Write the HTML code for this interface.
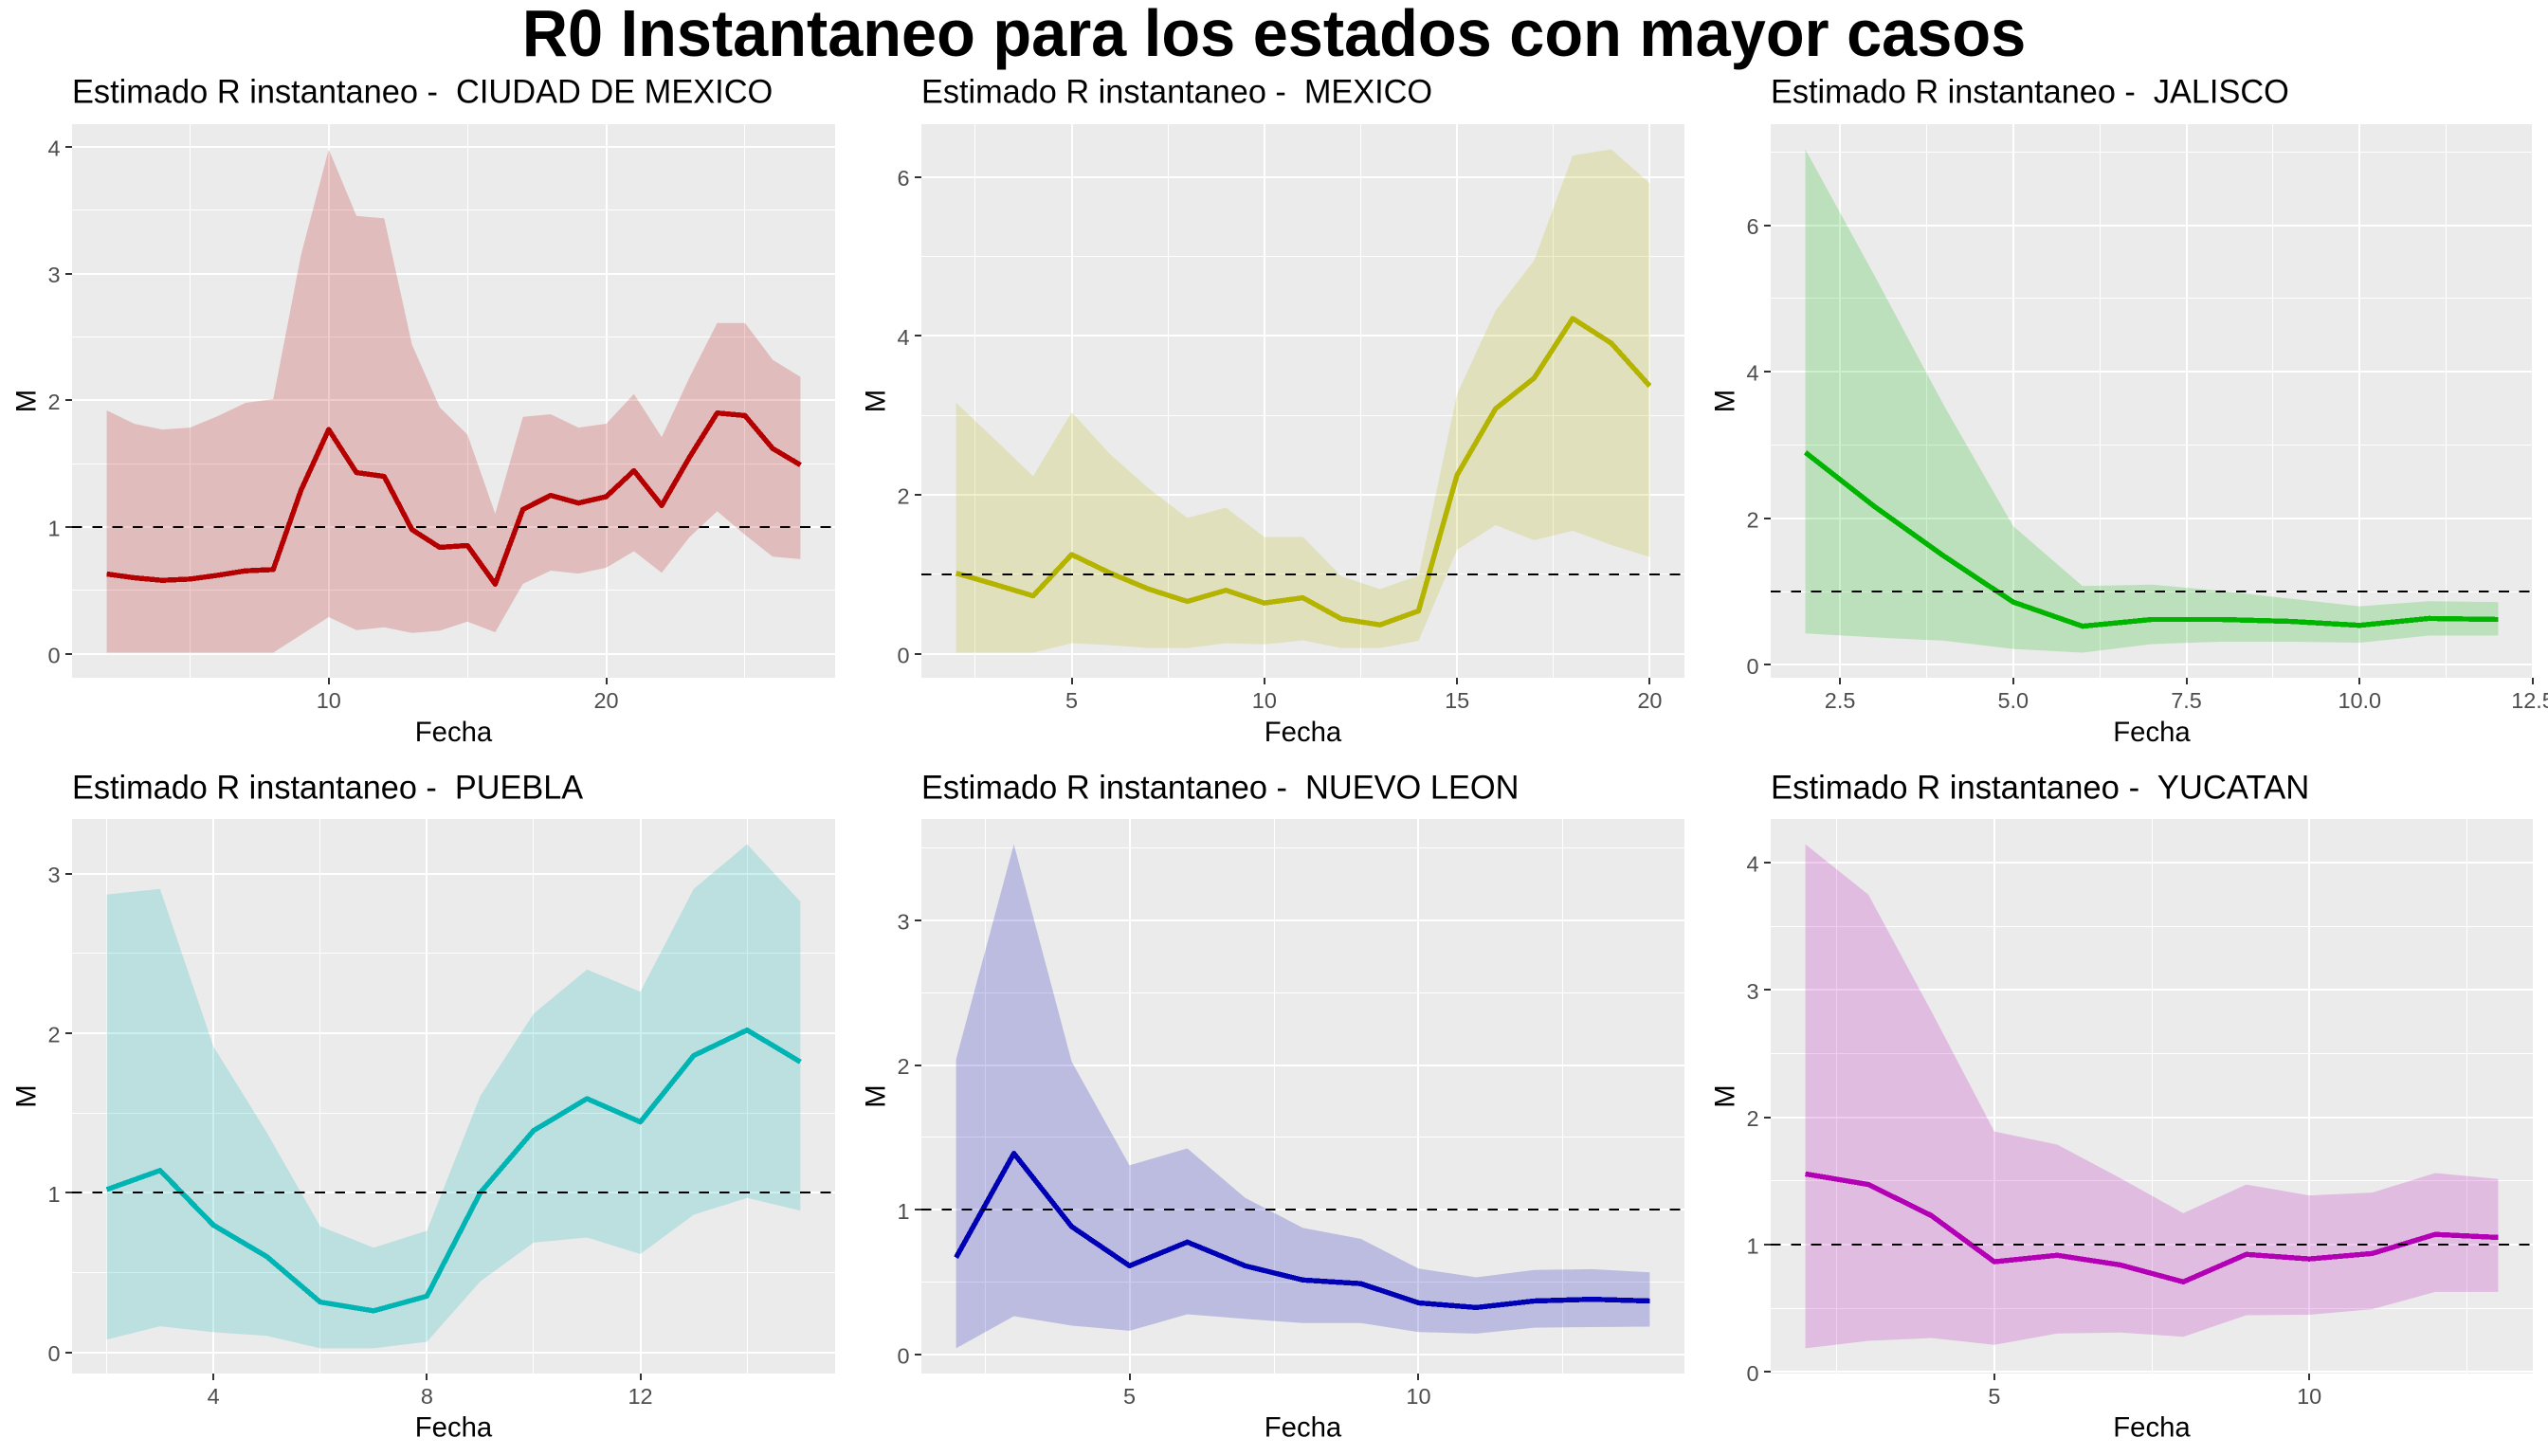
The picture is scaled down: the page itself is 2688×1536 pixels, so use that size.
<!DOCTYPE html>
<html lang="es">
<head>
<meta charset="utf-8">
<title>R0 Instantaneo para los estados con mayor casos</title>
<style>
  html, body { margin: 0; padding: 0; background: #ffffff; }
  body { width: 2688px; height: 1536px; overflow: hidden; }
  svg { display: block; font-family: "Liberation Sans", Arial, sans-serif; }
  .main-title { font-size: 69.3px; font-weight: bold; fill: #000; }
  .panel-title { font-size: 35.2px; fill: #000; white-space: pre; }
  .axis-title { font-size: 29.3px; fill: #000; }
  .tick-label { font-size: 23.45px; fill: #4D4D4D; }
</style>
</head>
<body>
<svg id="figure" xmlns="http://www.w3.org/2000/svg" width="2688" height="1536" viewBox="0 0 2688 1536">
  <rect x="0" y="0" width="2688" height="1536" fill="#ffffff"/>
  <text class="main-title" transform="translate(1344 59) scale(0.9626 1)" text-anchor="middle">R0 Instantaneo para los estados con mayor casos</text>

  <text class="panel-title" transform="translate(76 108.5) scale(0.977 1)" xml:space="preserve">Estimado R instantaneo -  CIUDAD DE MEXICO</text>
  <text class="panel-title" transform="translate(972 108.5) scale(0.974 1)" xml:space="preserve">Estimado R instantaneo -  MEXICO</text>
  <text class="panel-title" transform="translate(1868 108.5) scale(0.974 1)" xml:space="preserve">Estimado R instantaneo -  JALISCO</text>
  <text class="panel-title" transform="translate(76 842.5) scale(0.974 1)" xml:space="preserve">Estimado R instantaneo -  PUEBLA</text>
  <text class="panel-title" transform="translate(972 842.5) scale(0.977 1)" xml:space="preserve">Estimado R instantaneo -  NUEVO LEON</text>
  <text class="panel-title" transform="translate(1868 842.5) scale(0.985 1)" xml:space="preserve">Estimado R instantaneo -  YUCATAN</text>

  <text class="axis-title" x="478.5" y="782" text-anchor="middle">Fecha</text>
  <text class="axis-title" x="1374.5" y="782" text-anchor="middle">Fecha</text>
  <text class="axis-title" x="2270" y="782" text-anchor="middle">Fecha</text>
  <text class="axis-title" x="478.5" y="1515.5" text-anchor="middle">Fecha</text>
  <text class="axis-title" x="1374.5" y="1515.5" text-anchor="middle">Fecha</text>
  <text class="axis-title" x="2270" y="1515.5" text-anchor="middle">Fecha</text>

  <text class="axis-title" transform="translate(37.5 423) rotate(-90)" text-anchor="middle">M</text>
  <text class="axis-title" transform="translate(933.5 423) rotate(-90)" text-anchor="middle">M</text>
  <text class="axis-title" transform="translate(1829.5 423) rotate(-90)" text-anchor="middle">M</text>
  <text class="axis-title" transform="translate(37.5 1156.5) rotate(-90)" text-anchor="middle">M</text>
  <text class="axis-title" transform="translate(933.5 1156.5) rotate(-90)" text-anchor="middle">M</text>
  <text class="axis-title" transform="translate(1829.5 1156.5) rotate(-90)" text-anchor="middle">M</text>

  <g id="panels"></g>
</svg>

<script>
// ---- Data ----
const cdmxDays  = [2,3,4,5,6,7,8,9,10,11,12,13,14,15,16,17,18,19,20,21,22,23,24,25,26,27];
const cdmxMean  = [0.63,0.60,0.58,0.59,0.62,0.655,0.665,1.29,1.77,1.43,1.40,0.98,0.84,0.855,0.55,1.14,1.25,1.19,1.24,1.445,1.17,1.55,1.90,1.88,1.62,1.49];
const cdmxUpper = [1.92,1.815,1.77,1.785,1.875,1.98,2.01,3.145,3.98,3.455,3.435,2.44,1.945,1.73,1.105,1.87,1.89,1.785,1.815,2.05,1.71,2.18,2.61,2.61,2.32,2.185];
const cdmxLower = [0.01,0.01,0.01,0.01,0.01,0.01,0.01,0.15,0.29,0.187,0.21,0.165,0.183,0.255,0.17,0.553,0.656,0.633,0.68,0.81,0.64,0.92,1.125,0.94,0.767,0.747];
const cdmxXTicks = [10,20];
const cdmxYTicks = [0,1,2,3,4];

const mexDays  = [2,3,4,5,6,7,8,9,10,11,12,13,14,15,16,17,18,19,20];
const mexMean  = [1.016,0.875,0.73,1.25,1.016,0.815,0.66,0.80,0.64,0.706,0.44,0.365,0.54,2.25,3.085,3.47,4.22,3.91,3.37];
const mexUpper = [3.16,2.70,2.235,3.04,2.51,2.08,1.71,1.84,1.47,1.47,0.975,0.815,0.985,3.27,4.32,4.95,6.27,6.348,5.92];
const mexLower = [0.016,0.016,0.016,0.134,0.11,0.073,0.073,0.134,0.12,0.17,0.073,0.073,0.164,1.31,1.62,1.43,1.55,1.37,1.22];
const mexXTicks = [5,10,15,20];
const mexYTicks = [0,2,4,6];

const jalDays  = [2,3,4,5,6,7,8,9,10,11,12];
const jalMean  = [2.90,2.16,1.485,0.858,0.528,0.62,0.62,0.594,0.54,0.634,0.62];
const jalUpper = [7.036,5.31,3.54,1.894,1.076,1.096,1.01,0.904,0.80,0.87,0.858];
const jalLower = [0.43,0.376,0.33,0.218,0.168,0.284,0.317,0.317,0.304,0.40,0.40];
const jalXTicks = [2.5,5,7.5,10,12.5];
const jalXLabels = ['2.5','5.0','7.5','10.0','12.5'];
const jalYTicks = [0,2,4,6];

const pueDays  = [2,3,4,5,6,7,8,9,10,11,12,13,14,15];
const pueMean  = [1.02,1.14,0.797,0.60,0.315,0.26,0.352,1.0,1.39,1.59,1.444,1.86,2.02,1.82];
const pueUpper = [2.87,2.905,1.917,1.378,0.79,0.656,0.762,1.607,2.123,2.40,2.26,2.905,3.185,2.825];
const pueLower = [0.08,0.163,0.126,0.103,0.025,0.025,0.066,0.444,0.688,0.72,0.616,0.862,0.968,0.888];
const pueXTicks = [4,8,12];
const pueYTicks = [0,1,2,3];

const nleDays  = [2,3,4,5,6,7,8,9,10,11,12,13,14];
const nleMean  = [0.67,1.39,0.884,0.613,0.777,0.613,0.515,0.49,0.357,0.325,0.37,0.382,0.37];
const nleUpper = [2.04,3.526,2.024,1.307,1.424,1.083,0.875,0.80,0.594,0.534,0.584,0.59,0.568];
const nleLower = [0.043,0.265,0.20,0.164,0.278,0.246,0.218,0.218,0.155,0.145,0.186,0.19,0.193];
const nleXTicks = [5,10];
const nleYTicks = [0,1,2,3];

const yucDays  = [2,3,4,5,6,7,8,9,10,11,12,13];
const yucMean  = [1.555,1.472,1.228,0.865,0.916,0.84,0.707,0.923,0.887,0.93,1.08,1.056];
const yucUpper = [4.145,3.749,2.833,1.889,1.785,1.522,1.246,1.472,1.386,1.408,1.562,1.515];
const yucLower = [0.185,0.244,0.266,0.212,0.302,0.309,0.276,0.445,0.449,0.492,0.628,0.628];
const yucXTicks = [5,10];
const yucYTicks = [0,1,2,3,4];

const referenceValue = 1;

// ---- Layout and style ----
const columnBounds = [[76, 881], [972, 1777], [1868, 2672]];
const rowBounds = [[131, 715], [864, 1449]];
const EXPAND = 0.05;
const SVGNS = 'http://www.w3.org/2000/svg';
const panelRoot = document.getElementById('panels');

function shape(parent, tag, attrs, text) {
  const node = document.createElementNS(SVGNS, tag);
  for (const key in attrs) node.setAttribute(key, attrs[key]);
  if (text !== undefined) node.textContent = text;
  parent.appendChild(node);
  return node;
}

function linearScale(domainLo, domainHi, rangeLo, rangeHi) {
  return function (v) {
    return rangeLo + (v - domainLo) / (domainHi - domainLo) * (rangeHi - rangeLo);
  };
}

function expandedDomain(values) {
  const lo = Math.min.apply(null, values);
  const hi = Math.max.apply(null, values);
  const pad = (hi - lo) * EXPAND;
  return [lo - pad, hi + pad];
}

function minorBreaks(ticks, domain) {
  const step = ticks.length > 1 ? ticks[1] - ticks[0] : ticks[0];
  const out = [];
  for (let v = ticks[0] - step / 2; v <= domain[1]; v += step) {
    if (v >= domain[0]) out.push(v);
  }
  return out;
}

function pointsOf(xs, ys, xScale, yScale) {
  return xs.map(function (d, i) {
    return xScale(d).toFixed(2) + ',' + yScale(ys[i]).toFixed(2);
  });
}

// Pixel-snapped stroke centres so aliased rules keep a uniform width.
function snapEven(p) { return Math.round(p); }
function snapOdd(p) { return Math.floor(p) + 0.5; }

function drawPanel(cfg, col, row) {
  const left = columnBounds[col][0], right = columnBounds[col][1];
  const top = rowBounds[row][0], bottom = rowBounds[row][1];
  const xDomain = expandedDomain(cfg.days);
  const yDomain = expandedDomain(cfg.lower.concat(cfg.upper));
  const xScale = linearScale(xDomain[0], xDomain[1], left, right);
  const yScale = linearScale(yDomain[0], yDomain[1], bottom, top);

  const group = shape(panelRoot, 'g', {});
  
  

  const bg = shape(group, 'rect', { x: left, y: top, width: right - left, height: bottom - top, fill: '#EBEBEB' });
  
  

  minorBreaks(cfg.yTicks, yDomain).forEach(function (v) {
    const g = shape(group, 'line', { x1: left, x2: right, y1: snapOdd(yScale(v)), y2: snapOdd(yScale(v)), stroke: '#fff', 'stroke-width': 1, 'shape-rendering': 'crispEdges' });
    
    
  });
  minorBreaks(cfg.xTicks, xDomain).forEach(function (v) {
    const g = shape(group, 'line', { y1: top, y2: bottom, x1: snapOdd(xScale(v)), x2: snapOdd(xScale(v)), stroke: '#fff', 'stroke-width': 1, 'shape-rendering': 'crispEdges' });
    
    
  });
  cfg.yTicks.forEach(function (v) {
    const g = shape(group, 'line', { x1: left, x2: right, y1: snapEven(yScale(v)), y2: snapEven(yScale(v)), stroke: '#fff', 'stroke-width': 2, 'shape-rendering': 'crispEdges' });
    
    
  });
  cfg.xTicks.forEach(function (v) {
    const g = shape(group, 'line', { y1: top, y2: bottom, x1: snapEven(xScale(v)), x2: snapEven(xScale(v)), stroke: '#fff', 'stroke-width': 2, 'shape-rendering': 'crispEdges' });
    
    
  });

  const upperPts = pointsOf(cfg.days, cfg.upper, xScale, yScale);
  const lowerPts = pointsOf(cfg.days, cfg.lower, xScale, yScale).reverse();
  const ribbon = shape(group, 'polygon', { points: upperPts.concat(lowerPts).join(' '), fill: cfg.color, 'fill-opacity': 0.2, stroke: 'none' });
  
  

  const meanLine = shape(group, 'polyline', { points: pointsOf(cfg.days, cfg.mean, xScale, yScale).join(' '), fill: 'none', stroke: cfg.color, 'stroke-width': 5.4, 'stroke-linejoin': 'round', 'shape-rendering': 'crispEdges' });
  
  

  const hline = shape(group, 'line', { x1: left, x2: right, y1: snapEven(yScale(referenceValue)), y2: snapEven(yScale(referenceValue)), stroke: '#000', 'stroke-width': 2, 'stroke-dasharray': '10.67 10.67', 'shape-rendering': 'crispEdges' });
  
  

  cfg.yTicks.forEach(function (v) {
    const tick = shape(group, 'line', { x1: left - 7, x2: left, y1: snapEven(yScale(v)), y2: snapEven(yScale(v)), stroke: '#333333', 'stroke-width': 2, 'shape-rendering': 'crispEdges' });
    
    
    const label = shape(group, 'text', { class: 'tick-label', x: left - 12.5, y: yScale(v) + 9.5, 'text-anchor': 'end' }, String(v));
    
    
  });
  cfg.xTicks.forEach(function (v, i) {
    const tick = shape(group, 'line', { y1: bottom, y2: bottom + 7, x1: snapEven(xScale(v)), x2: snapEven(xScale(v)), stroke: '#333333', 'stroke-width': 2, 'shape-rendering': 'crispEdges' });
    
    
    const text = cfg.xLabels ? cfg.xLabels[i] : String(v);
    const label = shape(group, 'text', { class: 'tick-label', x: xScale(v), y: bottom + 32, 'text-anchor': 'middle' }, text);
    
    
  });
}

drawPanel({ id: 'ciudad-de-mexico', color: '#B40000', days: cdmxDays, mean: cdmxMean, upper: cdmxUpper, lower: cdmxLower, xTicks: cdmxXTicks, yTicks: cdmxYTicks }, 0, 0);
drawPanel({ id: 'mexico', color: '#B4B400', days: mexDays, mean: mexMean, upper: mexUpper, lower: mexLower, xTicks: mexXTicks, yTicks: mexYTicks }, 1, 0);
drawPanel({ id: 'jalisco', color: '#00B400', days: jalDays, mean: jalMean, upper: jalUpper, lower: jalLower, xTicks: jalXTicks, xLabels: jalXLabels, yTicks: jalYTicks }, 2, 0);
drawPanel({ id: 'puebla', color: '#00B4B4', days: pueDays, mean: pueMean, upper: pueUpper, lower: pueLower, xTicks: pueXTicks, yTicks: pueYTicks }, 0, 1);
drawPanel({ id: 'nuevo-leon', color: '#0000B4', days: nleDays, mean: nleMean, upper: nleUpper, lower: nleLower, xTicks: nleXTicks, yTicks: nleYTicks }, 1, 1);
drawPanel({ id: 'yucatan', color: '#B400B4', days: yucDays, mean: yucMean, upper: yucUpper, lower: yucLower, xTicks: yucXTicks, yTicks: yucYTicks }, 2, 1);
</script>
</body>
</html>
